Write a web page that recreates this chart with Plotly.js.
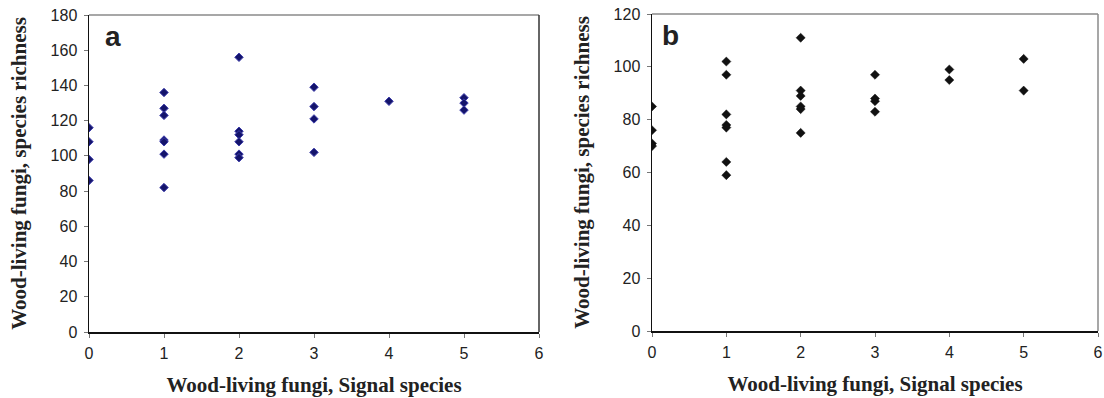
<!DOCTYPE html>
<html>
<head>
<meta charset="utf-8">
<script src="https://cdn.plot.ly/plotly-3.0.1.min.js"></script>
<style>html,body{margin:0;padding:0;background:#fff;}#chart{width:1104px;height:398px;}</style>
</head>
<body>
<div id="chart"></div>
<script>
// Panel a: signal species vs species richness
const aSignal = [0,0,0,0, 1,1,1,1,1,1,1, 2,2,2,2,2,2, 3,3,3,3, 4, 5,5,5];
const aRichness = [116,108,98,86, 136,127,123,109,108,101,82, 156,114,112,108,101,99, 139,128,121,102, 131, 133,130,126];
// Panel b
const bSignal = [0,0,0,0, 1,1,1,1,1,1,1, 2,2,2,2,2,2, 3,3,3,3, 4,4, 5,5];
const bRichness = [85,76,71,70, 102,97,82,78,77,64,59, 111,91,89,85,84,75, 97,88,87,83, 99,95, 103,91];

const xTicks = [0,1,2,3,4,5,6];
const aYTicks = [0,20,40,60,80,100,120,140,160,180];
const bYTicks = [0,20,40,60,80,100,120];
const xTitle = 'Wood-living fungi, Signal species';
const yTitle = 'Wood-living fungi, species richness';
const panelLabels = ['a','b'];

const tickFont = {family: 'Liberation Sans, Arial, sans-serif', size: 16, color: '#222'};
const titleFont = {family: 'Liberation Serif, Times New Roman, serif', size: 21, color: '#222', weight: 'bold'};

const traces = [
  {x: aSignal, y: aRichness, type: 'scatter', mode: 'markers', xaxis: 'x', yaxis: 'y',
   marker: {symbol: 'diamond', size: 6.5, color: '#14146b', line: {color: '#3c3cab', width: 1}}, hoverinfo: 'x+y'},
  {x: bSignal, y: bRichness, type: 'scatter', mode: 'markers', xaxis: 'x2', yaxis: 'y2',
   marker: {symbol: 'diamond', size: 7, color: '#111', line: {color: '#111', width: 0.5}}, hoverinfo: 'x+y'}
];

function xax(domain, anchor) {
  return {domain: domain, anchor: anchor, range: [0, 6], tickvals: xTicks, ticktext: xTicks.map(String),
    showgrid: false, zeroline: false, showline: true, linecolor: '#111', linewidth: 1.5,
    ticks: 'outside', ticklen: 4, tickcolor: '#777', tickwidth: 1, tickfont: tickFont, ticklabelstandoff: 2,
    title: {text: xTitle, font: titleFont, standoff: 16}};
}
function yax(domain, anchor, ticks, max) {
  return {domain: domain, anchor: anchor, range: [0, max], tickvals: ticks, ticktext: ticks.map(String),
    showgrid: false, zeroline: false, showline: true, linecolor: '#111', linewidth: 1.5,
    ticks: 'outside', ticklen: 4, tickcolor: '#777', tickwidth: 1, tickfont: tickFont, ticklabelstandoff: 3,
    title: {text: yTitle, font: titleFont, standoff: 18}};
}

const ax1 = [89/1104, 539/1104];
const ay1 = [66/398, 383/398];
const ax2 = [652/1104, 1098/1104];
const ay2 = [67/398, 384/398];

const layout = {
  width: 1104, height: 398,
  margin: {l: 0, r: 0, t: 0, b: 0},
  paper_bgcolor: '#fff', plot_bgcolor: '#fff',
  showlegend: false,
  xaxis: xax(ax1, 'y'),
  yaxis: yax(ay1, 'x', aYTicks, 180),
  xaxis2: xax(ax2, 'y2'),
  yaxis2: yax(ay2, 'x2', bYTicks, 120),
  shapes: [
    {type: 'line', xref: 'paper', yref: 'paper', x0: ax1[0], x1: ax1[1], y0: ay1[1], y1: ay1[1], line: {color: '#8a8a8a', width: 1.5}, layer: 'below'},
    {type: 'line', xref: 'paper', yref: 'paper', x0: ax1[1], x1: ax1[1], y0: ay1[0], y1: ay1[1], line: {color: '#333', width: 1.5}, layer: 'below'},
    {type: 'line', xref: 'paper', yref: 'paper', x0: ax2[0], x1: ax2[1], y0: ay2[1], y1: ay2[1], line: {color: '#8a8a8a', width: 1.5}, layer: 'below'},
    {type: 'line', xref: 'paper', yref: 'paper', x0: ax2[1], x1: ax2[1], y0: ay2[0], y1: ay2[1], line: {color: '#8a8a8a', width: 1.5}, layer: 'below'}
  ],
  annotations: [
    {xref: 'x', yref: 'y', x: 0.18, y: 168, text: panelLabels[0], showarrow: false, xanchor: 'left', yanchor: 'middle',
     font: {family: 'Liberation Sans, Arial, sans-serif', size: 28, color: '#222', weight: 'bold'}},
    {xref: 'x2', yref: 'y2', x: 0.11, y: 112, text: panelLabels[1], showarrow: false, xanchor: 'left', yanchor: 'middle',
     font: {family: 'Liberation Sans, Arial, sans-serif', size: 28, color: '#222', weight: 'bold'}}
  ]
};

Plotly.newPlot('chart', traces, layout, {displayModeBar: false, staticPlot: true});
</script>
</body>
</html>
